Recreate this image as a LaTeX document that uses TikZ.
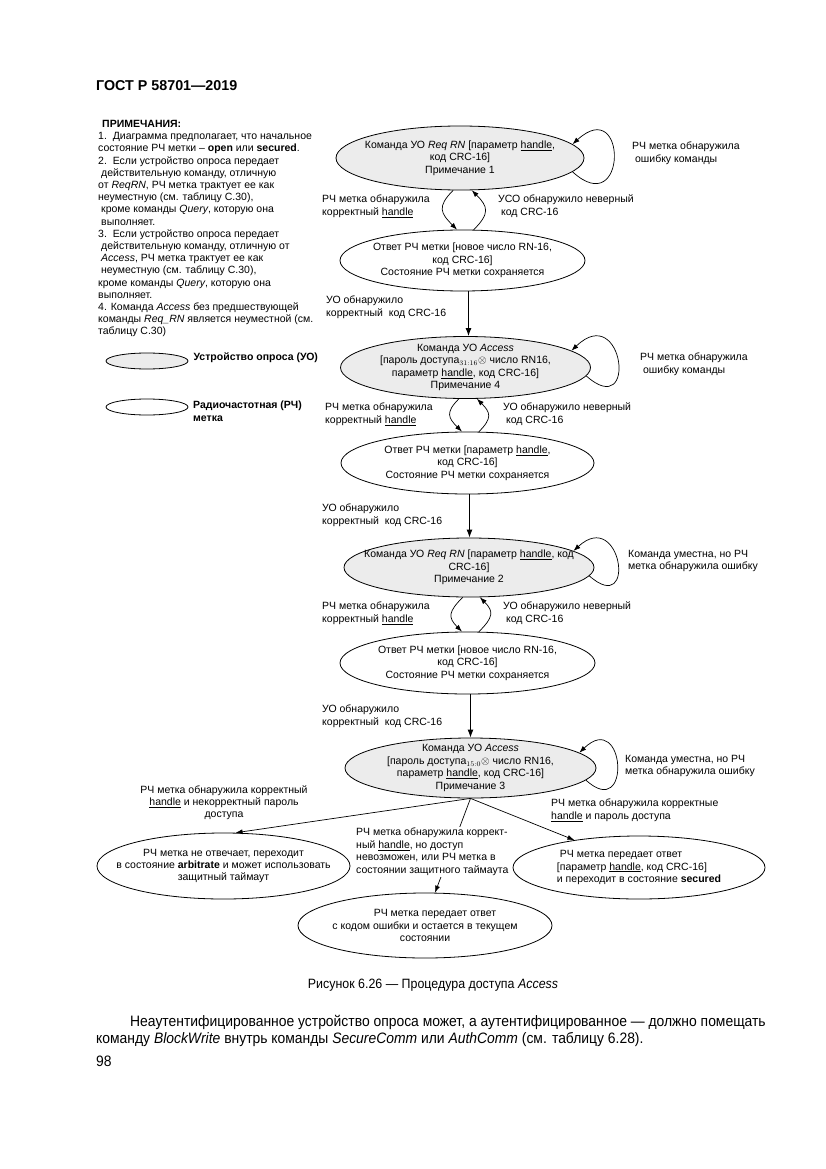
\documentclass[tikz,border=0pt]{standalone}
\usepackage{fontspec}
\setmainfont{Liberation Sans}
\newfontfamily\narrowfont{Liberation Sans}[FakeStretch=0.92]
\usetikzlibrary{shapes.geometric,arrows.meta,positioning}
\definecolor{uogray}{RGB}{236,236,236}

\begin{document}
\begin{tikzpicture}[x=1pt,y=1pt,
    uo/.style={ellipse,draw,line width=0.8pt,fill=uogray,
               minimum width=250pt,minimum height=62pt,inner sep=0pt},
    tag/.style={ellipse,draw,line width=0.8pt,fill=white,
                minimum width=250pt,minimum height=62pt,inner sep=0pt},
    txt/.style={align=center,inner sep=0pt,font=\fontsize{10.5}{12.4}\selectfont},
    lbl/.style={align=left,inner sep=0pt,anchor=north west,
                font=\fontsize{10.5}{12.4}\selectfont},
    arr/.style={-{Latex[length=7pt,width=5pt]},line width=0.7pt},
    down/.style={-{Latex[length=8pt,width=6pt]},line width=1.1pt}
  ]
  \useasboundingbox[fill=white] (0,0) rectangle (826,-1169);

  % header and notes
  \node[anchor=north west,inner sep=0pt,font=\fontsize{14.3}{16}\selectfont\bfseries]
    (head) at (96,-80) {ГОСТ Р 58701—2019};
  \node[lbl,font=\fontsize{10.5}{12.2}\selectfont] (notes) at (98,-120)
    {\hspace*{4pt}\textbf{ПРИМЕЧАНИЯ:}\\
     1.\ \ Диаграмма предполагает, что начальное\\
     состояние РЧ метки -- \textbf{open} или \textbf{secured}.\\
     2.\ \ Если устройство опроса передает\\
     \hspace*{3pt}действительную команду, отличную\\
     от \textit{ReqRN}, РЧ метка трактует ее как\\
     неуместную (см. таблицу С.30),\\
     \hspace*{3pt}кроме команды \textit{Query}, которую она\\
     \hspace*{3pt}выполняет.\\
     3.\ \ Если устройство опроса передает\\
     \hspace*{3pt}действительную команду, отличную от\\
     \hspace*{3pt}\textit{Access}, РЧ метка трактует ее как\\
     \hspace*{3pt}неуместную (см. таблицу С.30),\\
     кроме команды \textit{Query}, которую она\\
     выполняет.\\
     4. Команда \textit{Access} без предшествующей\\
     команды \textit{Req\_RN} является неуместной (см.\\
     таблицу С.30)};

  % legend
  \node[uo,minimum width=82pt,minimum height=16pt] (lgu) at (147,-361) {};
  \node[right=5pt of lgu,inner sep=0pt,font=\fontsize{10.5}{12.4}\selectfont\bfseries,
        yshift=3pt] (lgut) {Устройство опроса (УО)};
  \node[tag,minimum width=82pt,minimum height=16pt] (lgr) at (147,-407) {};
  \node[lbl,font=\fontsize{10.5}{12.4}\selectfont\bfseries] (lgrt) at (193,-401)
    {Радиочастотная (РЧ)\\метка};

  % states
  \node[uo,minimum width=248pt,minimum height=64pt] (n1) at (460,-158) {};
  \node[txt] (t1) at (n1) {Команда УО \textit{Req RN} [параметр \underline{handle},\\
    код CRC-16]\\Примечание 1};
  \node[tag,minimum width=245pt,minimum height=61pt] (n2) at (462.5,-260.5) {};
  \node[txt] (t2) at (n2) {Ответ РЧ метки [новое число RN-16,\\код CRC-16]\\
    Состояние РЧ метки сохраняется};
  \node[uo] (n3) at (465.5,-367.5) {};
  \node[txt] (t3) at (n3) {Команда УО \textit{Access}\\
    {[}пароль доступа$_{31:16}\otimes$ число RN16,\\
    параметр \underline{handle}, код CRC-16]\\Примечание 4};
  \node[tag,minimum width=253pt] (n4) at (467.5,-463) {};
  \node[txt] (t4) at (n4) {Ответ РЧ метки [параметр \underline{handle},\\код CRC-16]\\
    Состояние РЧ метки сохраняется};
  \node[uo,minimum width=250pt,minimum height=59pt] (n5) at (469,-567.5) {};
  \node[txt] (t5) at (n5) {Команда УО \textit{Req RN} [параметр \underline{handle}, код\\
    CRC-16]\\Примечание 2};
  \node[tag,minimum width=255pt] (n6) at (467.5,-663) {};
  \node[txt] (t6) at (n6) {Ответ РЧ метки [новое число RN-16,\\код CRC-16]\\
    Состояние РЧ метки сохраняется};
  \node[uo,minimum width=251pt,minimum height=60pt] (n7) at (470.5,-768) {};
  \node[txt] (t7) at (n7) {Команда УО \textit{Access}\\
    {[}пароль доступа$_{15:0}\otimes$ число RN16,\\
    параметр \underline{handle}, код CRC-16]\\Примечание 3};
  \node[tag,minimum width=253pt,minimum height=66pt] (n8) at (223.5,-866) {};
  \node[txt] (t8) at (n8) {РЧ метка не отвечает, переходит\\
    в состояние \textbf{arbitrate} и может использовать\\защитный таймаут};
  \node[tag,minimum width=254pt,minimum height=65pt] (n9) at (425,-925.5) {};
  \node[txt] (t9) at (n9) {\hspace*{20pt}РЧ метка передает ответ\\
    с кодом ошибки и остается в текущем\\состоянии};
  \node[tag,minimum width=252pt,minimum height=63pt] (n10) at (639,-867.5) {};
  \node[txt,align=left] (t10) at (n10) {\ РЧ метка передает ответ\\
    {[}параметр \underline{handle}, код CRC-16]\\
    и переходит в состояние \textbf{secured}};

  % transitions
  \draw[arr] (n1.-7) .. controls +(55,-50) and +(55,50) .. (n1.7);
  \draw[arr] (n1.258) to[out=225,in=135,looseness=1.5] (n2.100);
  \draw[arr] (n2.70) to[out=45,in=-45,looseness=1.5] (n1.290);
  \draw[down] ([xshift=6pt]n2.south) -- ([xshift=6pt]n2.south|-n3.north);

  \draw[arr] (n3.-4) .. controls +(52,-46) and +(52,50) .. (n3.9);
  \draw[arr] (n3.258) to[out=225,in=135,looseness=1.5] (n4.100);
  \draw[arr] (n4.70) to[out=45,in=-45,looseness=1.5] (n3.290);
  \draw[down] ([xshift=2pt]n4.south) -- ([xshift=2pt]n4.south|-n5.north);

  \draw[arr] (n5.-4) .. controls +(48,-42) and +(48,44) .. (n5.9);
  \draw[arr] (n5.258) to[out=225,in=135,looseness=1.5] (n6.100);
  \draw[arr] (n6.70) to[out=45,in=-45,looseness=1.5] (n5.290);
  \draw[down] ([xshift=3pt]n6.south) -- ([xshift=3pt]n6.south|-n7.north);

  \draw[arr] (n7.-6) .. controls +(46,-42) and +(46,44) .. (n7.8);
  \draw[arr] (n7.south) -- (n8.70);
  \draw[arr] (n7.south) -- (n9.73);
  \draw[arr] (n7.south) -- (n10.157);

  % transition labels
  \node[lbl] (l1s) at (632,-142) {РЧ метка обнаружила\\\ ошибку команды};
  \node[lbl] (l12a) at (322,-195) {РЧ метка обнаружила\\корректный \underline{handle}};
  \node[lbl] (l12b) at (498,-195) {УСО обнаружило неверный\\\ код CRC-16};
  \node[lbl] (l23) at (326,-296) {УО обнаружило\\корректный\ \ код CRC-16};
  \node[lbl] (l3s) at (640,-353) {РЧ метка обнаружила\\\ ошибку команды};
  \node[lbl] (l34a) at (325,-403) {РЧ метка обнаружила\\корректный \underline{handle}};
  \node[lbl] (l34b) at (503,-403) {УО обнаружило неверный\\\ код CRC-16};
  \node[lbl] (l45) at (322,-504) {УО обнаружило\\корректный\ \ код CRC-16};
  \node[lbl] (l5s) at (628,-550) {Команда уместна, но РЧ\\метка обнаружила ошибку};
  \node[lbl] (l56a) at (322,-602) {РЧ метка обнаружила\\корректный \underline{handle}};
  \node[lbl] (l56b) at (503,-602) {УО обнаружило неверный\\\ код CRC-16};
  \node[lbl] (l67) at (322,-705) {УО обнаружило\\корректный\ \ код CRC-16};
  \node[lbl] (l7s) at (625,-755) {Команда уместна, но РЧ\\метка обнаружила ошибку};
  \node[lbl,align=center,anchor=north] (l78) at (224,-785)
    {РЧ метка обнаружила корректный\\\underline{handle} и некорректный пароль\\доступа};
  \node[lbl,fill=white,inner sep=1.5pt] (l79) at (354.5,-826.5)
    {РЧ метка обнаружила коррект-\\ный \underline{handle}, но доступ\\
     невозможен, или РЧ метка в\\состоянии защитного таймаута};
  \node[lbl] (l710) at (551,-799) {РЧ метка обнаружила корректные\\
    \underline{handle} и пароль доступа};

  % caption and body text
  \node[inner sep=0pt,font=\narrowfont\fontsize{13.5}{15}\selectfont] (cap) at (433,-985)
    {Рисунок 6.26 — Процедура доступа \textit{Access}};
  \node[anchor=north west,align=left,inner sep=0pt,
        font=\narrowfont\fontsize{15.1}{17}\selectfont] (body) at (96,-1015)
    {\hspace*{34pt}Неаутентифицированное устройство опроса может, а аутентифицированное — должно помещать\\
     команду \textit{BlockWrite} внутрь команды \textit{SecureComm} или \textit{AuthComm} (см. таблицу 6.28).};
  \node[anchor=north west,inner sep=0pt,font=\narrowfont\fontsize{15.1}{17}\selectfont]
    (page) at (96,-1056) {98};
\end{tikzpicture}
\end{document}
